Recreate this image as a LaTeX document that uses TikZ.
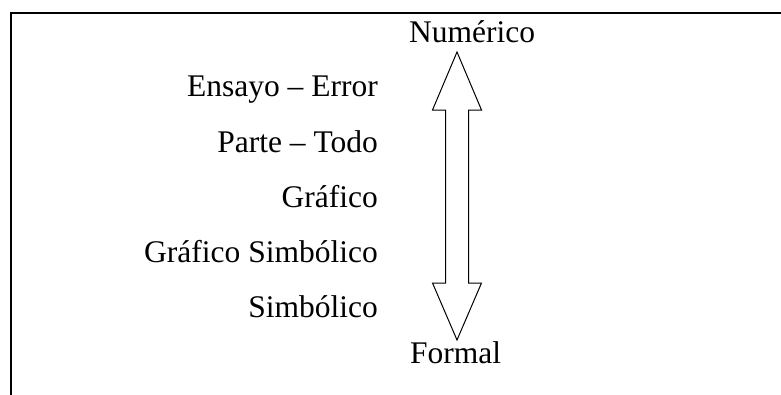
\documentclass[tikz,border=0pt]{standalone}
\usepackage{fontspec}
\setmainfont{Liberation Serif}
\tikzset{
  lbl/.style={inner sep=0pt, font=\fontsize{31.5}{36}\selectfont},
  frameline/.style={line width=2pt, line cap=rect},
  arrowshape/.style={draw, line width=1pt, line join=miter, fill=white}
}
\begin{document}
\begin{tikzpicture}[x=1pt,y=-1pt]
\useasboundingbox (0,0) rectangle (781,394);
% frame
\draw[frameline] (11,394) -- (11,13) -- (781,13);
% labels
\node[lbl, anchor=base west] (num) at (409,42) {Numérico};
\node[lbl, anchor=base west] (for) at (410,363) {Formal};
\node[lbl, anchor=base east] (ens) at (378,96) {Ensayo – Error};
\node[lbl, anchor=base east] (par) at (378,152) {Parte – Todo};
\node[lbl, anchor=base east] (gra) at (378,207) {Gráfico};
\node[lbl, anchor=base east] (gsi) at (378,262) {Gráfico Simbólico};
\node[lbl, anchor=base east] (sim) at (378,317) {Simbólico};
% double arrow
\draw[arrowshape] (457,52) -- (481.5,110) -- (468.5,110) -- (468.5,283) -- (481.5,283)
  -- (457,340) -- (432.5,283) -- (445.5,283) -- (445.5,110) -- (432.5,110) -- cycle;
\end{tikzpicture}
\end{document}
